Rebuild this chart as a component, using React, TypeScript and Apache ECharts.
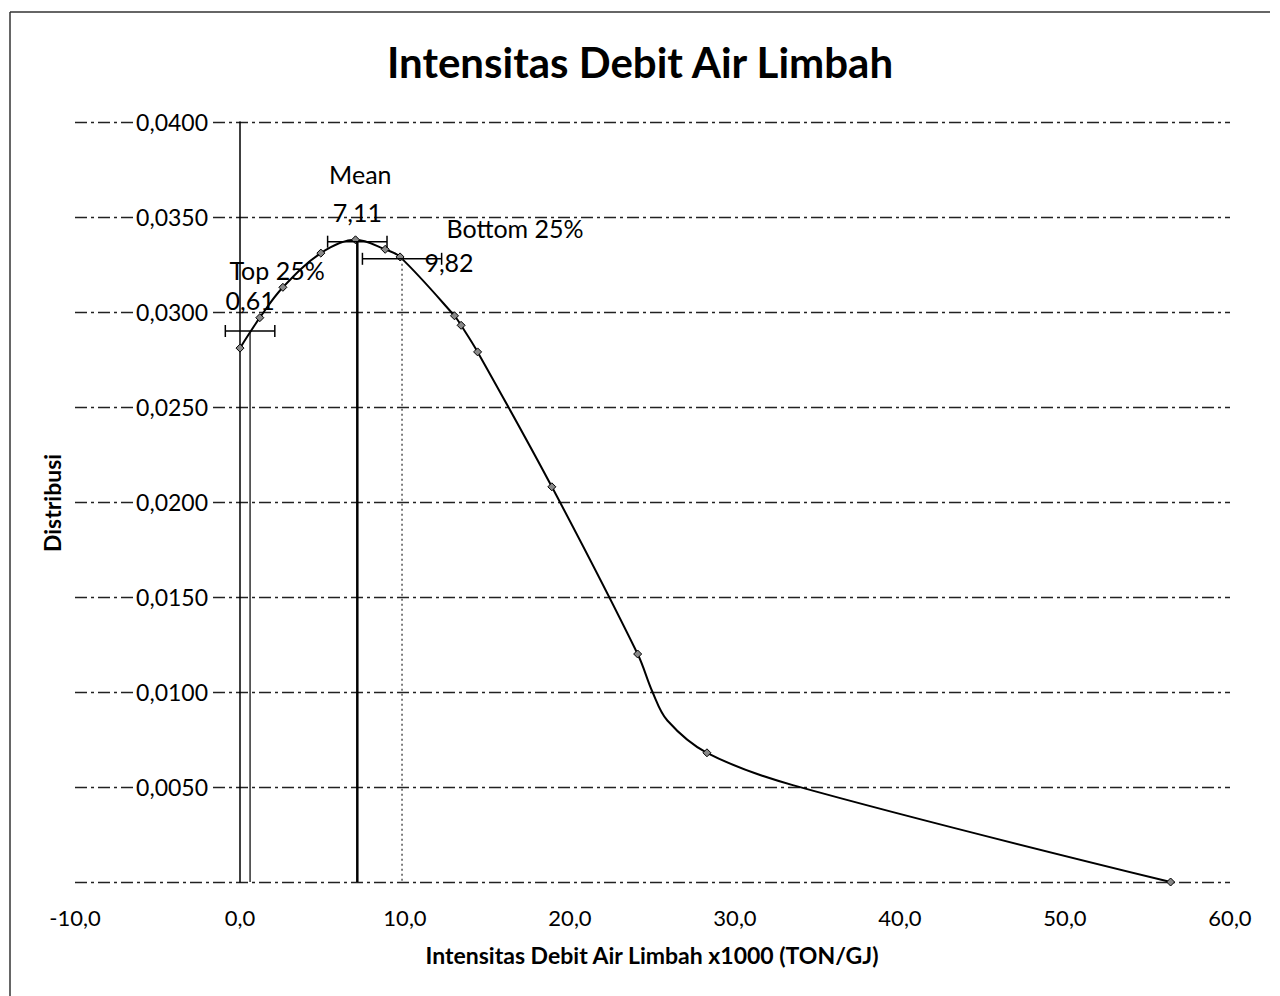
import React, { useEffect, useRef } from "react";
import * as echarts from "echarts";

// ---- Data ----
const curveX = [0.0, 1.2, 2.6, 4.9, 7.0, 8.8, 9.7, 13.0, 13.4, 14.4, 18.9, 24.1, 25.0, 25.9, 28.3, 33.5, 56.4];
const curveY = [0.0281, 0.0297, 0.0313, 0.0331, 0.0338, 0.0333, 0.0329, 0.0298, 0.0293, 0.0279, 0.0208, 0.012, 0.01, 0.0085, 0.0068, 0.0051, 0.0];
const curveMarked = [1, 1, 1, 1, 1, 1, 1, 1, 1, 1, 1, 1, 0, 0, 1, 0, 1];

const statNames = ["Top 25%", "Mean", "Bottom 25%"];
const statX = [0.61, 7.11, 9.82];
const statY = [0.029, 0.0337, 0.0328];
const statErr = [1.5, 1.8, 2.4];
const statValueLabels = ["0,61", "7,11", "9,82"];

const xMin = -10;
const xMax = 60;
const xInterval = 10;
const yMin = 0;
const yMax = 0.04;
const yInterval = 0.005;

const TITLE = "Intensitas Debit Air Limbah";
const X_NAME = "Intensitas Debit Air Limbah x1000 (TON/GJ)";
const Y_NAME = "Distribusi";

const FONT = 'Lato, "Open Sans", "DejaVu Sans", sans-serif';

// layout
const GRID_LEFT = 75;
const GRID_RIGHT = 50;
const GRID_WIDTH = 1280 - GRID_LEFT - GRID_RIGHT;
const Y_AXIS_OFFSET = -((0 - xMin) / (xMax - xMin)) * GRID_WIDTH; // put y axis at x = 0

// label layout (pixel offsets relative to each stat point)
const valueLabelOffset = [
  [0, -31],
  [0, -30],
  [47, 3],
];
const nameLabelOffset = [
  [27, -61],
  [3, -68],
  [113, -31],
];
const dropStyles = [
  { stroke: "#111", lineWidth: 1.3 },
  { stroke: "#000", lineWidth: 2.5 },
  { stroke: "#555", lineWidth: 1.5, lineDash: [2, 3] },
];

function fmtComma(v: number, d: number) {
  return v.toFixed(d).replace(".", ",");
}

export default function App() {
  const ref = useRef<HTMLDivElement>(null);
  useEffect(() => {
    const chart = echarts.init(ref.current!, null, { renderer: "svg" });
    const lineData = curveX.map((x, i) => ({
      value: [x, curveY[i]],
      symbol: curveMarked[i] ? "diamond" : "none",
    }));
    const statData = statX.map((x, i) => [x, statY[i], statErr[i], i]);

    const option: any = {
      animation: false,
      backgroundColor: "#fff",
      title: {
        text: TITLE,
        left: "center",
        top: 36,
        textStyle: { fontFamily: FONT, fontSize: 42, fontWeight: "bold", color: "#000" },
      },
      grid: { left: GRID_LEFT, right: GRID_RIGHT, top: 122, bottom: 114 },
      xAxis: {
        type: "value",
        min: xMin,
        max: xMax,
        interval: xInterval,
        axisLine: { show: false },
        axisTick: { show: false },
        splitLine: { show: false },
        axisLabel: {
          margin: 24,
          color: "#000",
          fontFamily: FONT,
          fontSize: 22,
          formatter: (v: number) => fmtComma(v, 1),
        },
      },
      yAxis: {
        type: "value",
        min: yMin,
        max: yMax,
        interval: yInterval,
        offset: Y_AXIS_OFFSET,
        axisLine: { show: true, onZero: false, lineStyle: { color: "#000", width: 1.5 } },
        axisTick: { show: false },
        splitLine: {
          show: true,
          lineStyle: { color: "#222", width: 1.3, type: [12, 4, 3, 4] },
        },
        axisLabel: {
          margin: 30,
          color: "#000",
          fontFamily: FONT,
          fontSize: 23,
          backgroundColor: "#fff",
          padding: [0, 2, 0, 2],
          formatter: (v: number) => (Math.abs(v) < 1e-9 ? "" : fmtComma(v, 4)),
        },
      },
      graphic: [
        { type: "line", shape: { x1: 10, y1: 12, x2: 1270, y2: 12 }, style: { stroke: "#333", lineWidth: 1.5 } },
        { type: "line", shape: { x1: 10, y1: 12, x2: 10, y2: 996 }, style: { stroke: "#333", lineWidth: 1.5 } },
        {
          type: "text",
          x: 52,
          y: 503,
          rotation: Math.PI / 2,
          style: {
            text: Y_NAME,
            font: `bold 23px ${FONT}`,
            fill: "#000",
            align: "center",
            verticalAlign: "middle",
            textAlign: "center",
            textVerticalAlign: "middle",
          },
        },
        {
          type: "text",
          x: 652,
          y: 955,
          style: {
            text: X_NAME,
            font: `bold 23px ${FONT}`,
            fill: "#000",
            align: "center",
            verticalAlign: "middle",
            textAlign: "center",
            textVerticalAlign: "middle",
          },
        },
      ],
      series: [
        {
          type: "line",
          data: lineData,
          smooth: 0.35,
          symbolSize: 8,
          lineStyle: { color: "#000", width: 2 },
          itemStyle: { color: "#888", borderColor: "#000", borderWidth: 1 },
          z: 3,
        },
        {
          type: "custom",
          data: statData,
          encode: { x: 0, y: 1 },
          z: 4,
          renderItem: (params: any, api: any) => {
            const x = api.value(0);
            const y = api.value(1);
            const e = api.value(2);
            const i = api.value(3);
            const p = api.coord([x, y]);
            const l = api.coord([x - e, y]);
            const r = api.coord([x + e, y]);
            const b = api.coord([x, 0]);
            const cap = 6;
            const ts = (text: string, dx: number, dy: number) => ({
              type: "text",
              x: p[0] + dx,
              y: p[1] + dy,
              style: {
                text,
                font: `25px ${FONT}`,
                fill: "#000",
                align: "center",
                verticalAlign: "middle",
                textAlign: "center",
                textVerticalAlign: "middle",
              },
            });
            return {
              type: "group",
              children: [
                { type: "line", shape: { x1: p[0], y1: p[1], x2: b[0], y2: b[1] }, style: dropStyles[i] },
                { type: "line", shape: { x1: l[0], y1: l[1], x2: r[0], y2: r[1] }, style: { stroke: "#000", lineWidth: 1.5 } },
                { type: "line", shape: { x1: l[0], y1: l[1] - cap, x2: l[0], y2: l[1] + cap }, style: { stroke: "#000", lineWidth: 1.5 } },
                { type: "line", shape: { x1: r[0], y1: r[1] - cap, x2: r[0], y2: r[1] + cap }, style: { stroke: "#000", lineWidth: 1.5 } },
                ts(statValueLabels[i], valueLabelOffset[i][0], valueLabelOffset[i][1]),
                ts(statNames[i], nameLabelOffset[i][0], nameLabelOffset[i][1]),
              ],
            };
          },
        },
      ],
    };
    chart.setOption(option);
    return () => chart.dispose();
  }, []);
  return (
    <div
      ref={ref}
      style={{ position: "absolute", left: 0, top: 0, width: 1280, height: 996, background: "#fff" }}
    />
  );
}
